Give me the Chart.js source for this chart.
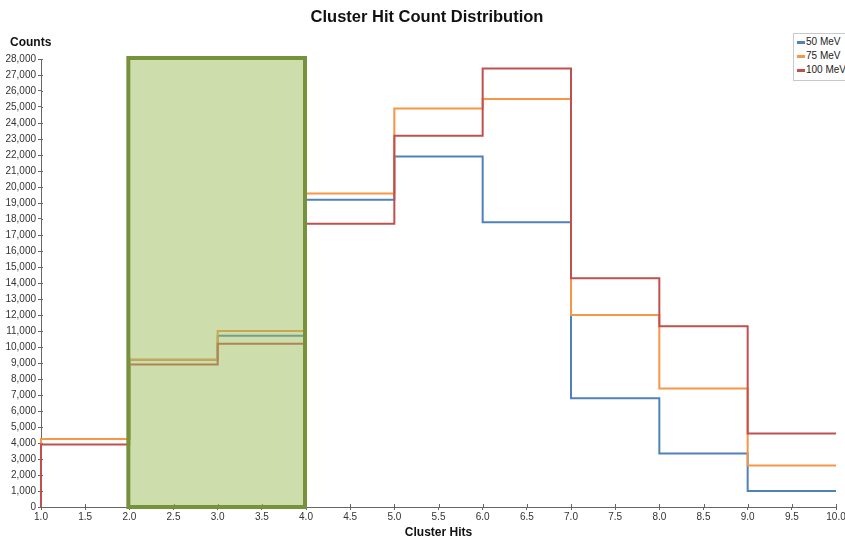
<!DOCTYPE html>
<html>
<head>
<meta charset="utf-8">
<script src="https://cdn.jsdelivr.net/npm/chart.js@4.4.1/dist/chart.umd.min.js"></script>
<style>
    body { margin: 0; background: #fff; overflow: hidden; }
    #wrap { position: relative; width: 845px; height: 540px; }
    #legend {
        position: absolute; left: 793px; top: 33px; width: 60px;
        border: 1px solid #c8c8c8; background: #fff;
        font: 10px "Liberation Sans", Arial, sans-serif; color: #222;
        padding: 1px 0 3px 3px;
    }
    #legend div { height: 14px; line-height: 14px; white-space: nowrap; }
    #legend span { display: inline-block; width: 8px; height: 3px; margin-right: 1px; vertical-align: middle; }
</style>
</head>
<body>
<div id="wrap">
    <canvas id="histChart"></canvas>
    <div id="legend"></div>
</div>
<script>
// Histogram bin edges (cluster hits) and counts per bin
const binEdges = [1, 2, 3, 4, 5, 6, 7, 8, 9, 10];
const seriesNames = ['50 MeV', '75 MeV', '100 MeV'];
const counts50 = [4250, 9200, 10700, 19200, 21900, 17800, 6800, 3350, 1000];
const counts75 = [4250, 9200, 11000, 19600, 24900, 25500, 12000, 7400, 2600];
const counts100 = [3900, 8900, 10200, 17700, 23200, 27400, 14300, 11300, 4600];
const seriesColors = ['#4f81bd', '#f79646', '#c0504d'];
const highlightRange = [2, 4];   // shaded region on x axis
const yTickMax = 28000;

const FONT = '"Liberation Sans", Arial, sans-serif';

function toSteps(values) {
    // start from zero at the first edge, then one point per bin, closing at last edge
    const pts = [{ x: binEdges[0], y: 0 }];
    values.forEach((v, i) => pts.push({ x: binEdges[i], y: v }));
    pts.push({ x: binEdges[binEdges.length - 1], y: values[values.length - 1] });
    return pts;
}

const allCounts = [counts50, counts75, counts100];

// shaded box between highlightRange, drawn over the lines; plus title texts
const highlightPlugin = {
    id: 'highlightBox',
    beforeDatasetsDraw(chart) {
        // short inner tick marks so they cross the axis lines
        const { ctx, scales, chartArea } = chart;
        ctx.save();
        ctx.strokeStyle = '#666';
        ctx.lineWidth = 1;
        ctx.beginPath();
        scales.y.ticks.forEach(t => {
            const y = Math.round(scales.y.getPixelForValue(t.value)) + 0.5;
            ctx.moveTo(chartArea.left, y);
            ctx.lineTo(chartArea.left + 2, y);
        });
        scales.x.ticks.forEach(t => {
            const x = Math.round(scales.x.getPixelForValue(t.value)) + 0.5;
            ctx.moveTo(x, chartArea.bottom);
            ctx.lineTo(x, chartArea.bottom - 3);
        });
        ctx.stroke();
        ctx.restore();
    },
    afterDatasetsDraw(chart) {
        const { ctx, scales } = chart;
        const x0 = scales.x.getPixelForValue(highlightRange[0]);
        const x1 = scales.x.getPixelForValue(highlightRange[1]);
        const y0 = scales.y.getPixelForValue(yTickMax);
        const y1 = scales.y.getPixelForValue(0);
        ctx.save();
        ctx.fillStyle = 'rgba(155, 187, 89, 0.5)';
        ctx.fillRect(x0, y0, x1 - x0, y1 - y0);
        ctx.strokeStyle = '#76923c';
        ctx.lineWidth = 4;
        ctx.strokeRect(x0 - 1, y0 - 1, x1 - x0, y1 - y0 + 1);
        ctx.restore();
    },
    afterDraw(chart) {
        const ctx = chart.ctx;
        ctx.save();
        ctx.fillStyle = '#111';
        ctx.textBaseline = 'middle';
        ctx.font = 'bold 16.5px ' + FONT;
        ctx.textAlign = 'center';
        ctx.fillText('Cluster Hit Count Distribution', 427, 17);
        ctx.font = 'bold 12px ' + FONT;
        ctx.textAlign = 'left';
        ctx.fillText('Counts', 10, 43);
        ctx.restore();
    }
};

const ctx = document.getElementById('histChart').getContext('2d');
new Chart(ctx, {
    type: 'line',
    data: {
        datasets: seriesNames.map((name, i) => ({
            label: name,
            data: toSteps(allCounts[i]),
            borderColor: seriesColors[i],
            borderWidth: 2,
            stepped: 'before',
            pointRadius: 0,
            fill: false,
            clip: false,
            order: seriesNames.length - i
        }))
    },
    options: {
        responsive: true,
        maintainAspectRatio: false,
        animation: false,
        layout: { padding: { left: 0, right: 9, top: 59, bottom: 0 } },
        plugins: {
            legend: { display: false },
            tooltip: { enabled: false },
            title: { display: false }
        },
        scales: {
            x: {
                type: 'linear',
                min: 1,
                max: 10,
                grid: { drawOnChartArea: false, color: '#666', tickLength: 3 },
                border: { color: '#666' },
                ticks: {
                    stepSize: 0.5,
                    padding: 1,
                    maxRotation: 0,
                    autoSkip: false,
                    color: '#333',
                    font: { family: FONT, size: 10 },
                    callback: v => Number(v).toFixed(1)
                },
                title: {
                    display: true,
                    text: 'Cluster Hits',
                    color: '#111',
                    font: { family: FONT, size: 12, weight: 'bold' },
                    padding: 0
                },
                afterFit(scale) {
                    scale.height = 33;
                    scale.paddingLeft = 0;
                    scale.paddingRight = 0;
                }
            },
            y: {
                min: 0,
                max: yTickMax,
                grid: { drawOnChartArea: false, color: '#666', tickLength: 3 },
                border: { color: '#666' },
                ticks: {
                    stepSize: 1000,
                    padding: 2,
                    autoSkip: false,
                    color: '#333',
                    font: { family: FONT, size: 10 },
                    callback: v => v.toLocaleString('en-US')
                },
                afterFit(scale) {
                    scale.width = 41;
                    scale.paddingTop = 0;
                    scale.paddingBottom = 0;
                }
            }
        }
    },
    plugins: [highlightPlugin]
});

// simple legend box at the top right
const legendEl = document.getElementById('legend');
seriesNames.forEach((name, i) => {
    const row = document.createElement('div');
    row.innerHTML = '<span style="background:' + seriesColors[i] + '"></span>' + name;
    legendEl.appendChild(row);
});
</script>
</body>
</html>
